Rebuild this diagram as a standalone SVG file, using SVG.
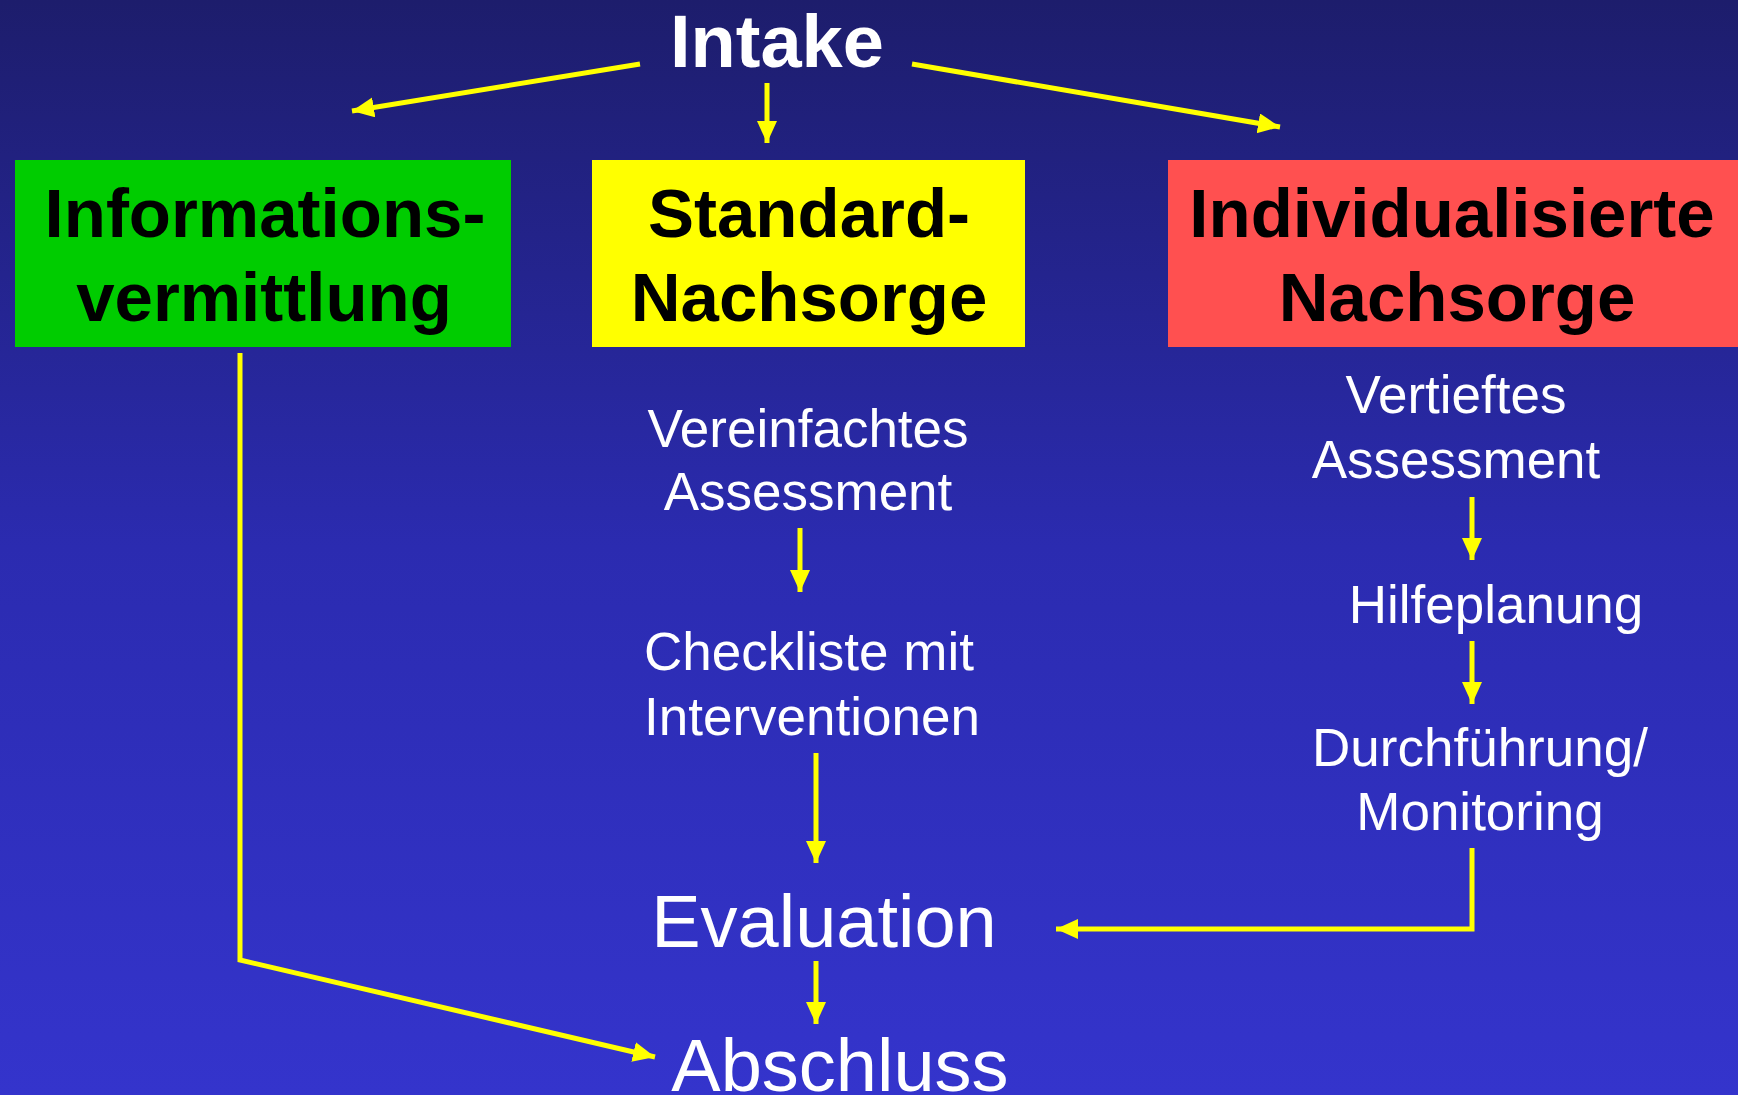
<svg xmlns="http://www.w3.org/2000/svg" width="1738" height="1095" viewBox="0 0 1738 1095">
<defs>
<linearGradient id="bg" x1="0" y1="0" x2="0" y2="1">
<stop offset="0" stop-color="#1d1d6c"/>
<stop offset="0.5" stop-color="#2b2bb0"/>
<stop offset="1" stop-color="#3434cc"/>
</linearGradient>
<marker id="ah" markerUnits="userSpaceOnUse" markerWidth="24" markerHeight="22" refX="22" refY="10" orient="auto">
<path d="M0,0 L22,10 L0,20 Z" fill="#ffff00"/>
</marker>
<style>
.box-t{font-family:"Liberation Sans",Arial,sans-serif;font-weight:bold;font-size:69px;fill:#000;text-anchor:middle}
.w{font-family:"Liberation Sans",Arial,sans-serif;font-size:53px;fill:#fff;text-anchor:middle}
.big{font-family:"Liberation Sans",Arial,sans-serif;font-size:74px;fill:#fff;text-anchor:middle}
.c{stroke:#ffff00;fill:none;stroke-width:5;marker-end:url(#ah)}
</style>
</defs>
<rect width="1738" height="1095" fill="url(#bg)"/>

<g id="connectors">
<line class="c" x1="640" y1="64" x2="352" y2="111"/>
<line class="c" x1="767" y1="83" x2="767" y2="143"/>
<line class="c" x1="912" y1="64" x2="1280" y2="127"/>
<line class="c" x1="800" y1="528" x2="800" y2="592"/>
<line class="c" x1="816" y1="753" x2="816" y2="863"/>
<line class="c" x1="816" y1="961" x2="816" y2="1024"/>
<line class="c" x1="1472" y1="497" x2="1472" y2="560"/>
<line class="c" x1="1472" y1="641" x2="1472" y2="704"/>
<polyline class="c" stroke-width="6" points="1472,848 1472,929 1056,929"/>
<polyline class="c" stroke-width="6" points="240,353 240,960 655,1057"/>
</g>

<g id="intake"><text class="big" font-weight="bold" x="777" y="67">Intake</text></g>

<g id="info">
<rect x="15" y="160" width="496" height="187" fill="#00cc00"/>
<text class="box-t" x="265" y="237">Informations-</text>
<text class="box-t" x="264" y="321">vermittlung</text>
</g>

<g id="standard">
<rect x="592" y="160" width="433" height="187" fill="#ffff00"/>
<text class="box-t" x="809" y="237">Standard-</text>
<text class="box-t" x="809" y="321">Nachsorge</text>
</g>

<g id="individual">
<rect x="1168" y="160" width="570" height="187" fill="#ff5050"/>
<text class="box-t" x="1452" y="237">Individualisierte</text>
<text class="box-t" x="1457" y="321">Nachsorge</text>
</g>

<g id="vereinfachtes">
<text class="w" x="808" y="447">Vereinfachtes</text>
<text class="w" x="808" y="510">Assessment</text>
</g>

<g id="checkliste">
<text class="w" x="809" y="670">Checkliste mit</text>
<text class="w" x="812" y="735">Interventionen</text>
</g>

<g id="vertieftes">
<text class="w" x="1456" y="413">Vertieftes</text>
<text class="w" x="1456" y="478">Assessment</text>
</g>

<g id="hilfeplanung"><text class="w" x="1496" y="623">Hilfeplanung</text></g>

<g id="durchfuehrung">
<text class="w" x="1480" y="766">Durchführung/</text>
<text class="w" x="1480" y="830">Monitoring</text>
</g>

<g id="evaluation"><text class="big" x="824" y="947">Evaluation</text></g>
<g id="abschluss"><text class="big" x="840" y="1091">Abschluss</text></g>
</svg>
